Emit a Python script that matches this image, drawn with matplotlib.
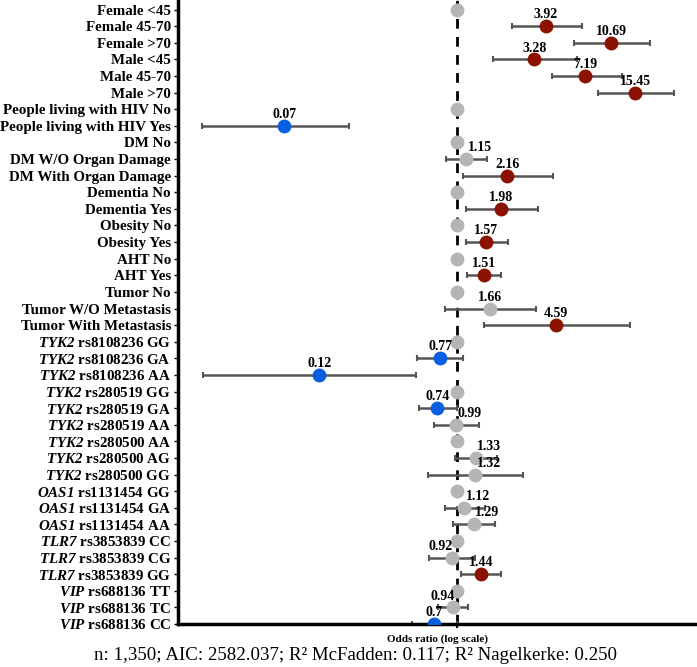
import matplotlib.pyplot as plt
import matplotlib

matplotlib.rcParams.update({
    'font.family': ['Liberation Serif', 'DejaVu Serif'],
    'mathtext.fontset': 'custom',
    'mathtext.it': 'Liberation Serif:italic:bold',
    'mathtext.rm': 'Liberation Serif:italic:bold',
})

labels = [
    "Female <45", "Female 45-70", "Female >70",
    "Male <45", "Male 45-70", "Male >70",
    "People living with HIV No", "People living with HIV Yes",
    "DM No", "DM W/O Organ Damage", "DM With Organ Damage",
    "Dementia No", "Dementia Yes",
    "Obesity No", "Obesity Yes",
    "AHT No", "AHT Yes",
    "Tumor No", "Tumor W/O Metastasis", "Tumor With Metastasis",
    r"$\mathit{TYK2}$ rs8108236 GG", r"$\mathit{TYK2}$ rs8108236 GA",
    r"$\mathit{TYK2}$ rs8108236 AA",
    r"$\mathit{TYK2}$ rs280519 GG", r"$\mathit{TYK2}$ rs280519 GA",
    r"$\mathit{TYK2}$ rs280519 AA",
    r"$\mathit{TYK2}$ rs280500 AA", r"$\mathit{TYK2}$ rs280500 AG",
    r"$\mathit{TYK2}$ rs280500 GG",
    r"$\mathit{OAS1}$ rs1131454 GG", r"$\mathit{OAS1}$ rs1131454 GA",
    r"$\mathit{OAS1}$ rs1131454 AA",
    r"$\mathit{TLR7}$ rs3853839 CC", r"$\mathit{TLR7}$ rs3853839 CG",
    r"$\mathit{TLR7}$ rs3853839 GG",
    r"$\mathit{VIP}$ rs688136 TT", r"$\mathit{VIP}$ rs688136 TC",
    r"$\mathit{VIP}$ rs688136 CC",
]

# None = reference category (OR = 1, no interval)
odds = [1, 3.92, 10.69, 3.28, 7.19, 15.45, 1, 0.07, 1, 1.15, 2.16, 1, 1.98,
        1, 1.57, 1, 1.51, 1, 1.66, 4.59, 1, 0.77, 0.12, 1, 0.74, 0.99,
        1, 1.33, 1.32, 1, 1.12, 1.29, 1, 0.92, 1.44, 1, 0.94, 0.7]
ci_low = [None, 2.32, 6.08, 1.75, 4.29, 8.79, None, 0.0199, None, 0.84, 1.09,
          None, 1.14, None, 1.14, None, 1.17, None, 0.83, 1.51, None, 0.538,
          0.0201, None, 0.555, 0.705, None, 0.97, 0.637, None, 0.83, 0.94,
          None, 0.653, 1.06, None, 0.75, 0.498]
ci_high = [None, 6.87, 19.5, 6.3, 12.6, 28.2, None, 0.19, None, 1.58, 4.40,
           None, 3.46, None, 2.18, None, 1.97, None, 3.37, 14.3, None, 1.10,
           0.532, None, 1.0, 1.40, None, 1.84, 2.76, None, 1.54, 1.78,
           None, 1.31, 1.96, None, 1.19, 1.0]
significant = [False, True, True, True, True, True, False, True, False, False,
               True, False, True, False, True, False, True, False, False, True,
               False, True, True, False, True, False, False, False, False,
               False, False, False, False, False, True, False, False, True]

caption = "n: 1,350; AIC: 2582.037; R² McFadden: 0.117; R² Nagelkerke: 0.250"

fig = plt.figure(figsize=(6.97, 6.67), dpi=100)
ax = fig.add_axes([0.2554, 0.0645, 0.7446, 0.9355])

ax.axvline(1, color='black', lw=2, ls=(0, (3.5, 3)), zorder=1)

for i, (o, lo, hi, sig) in enumerate(zip(odds, ci_low, ci_high, significant)):
    if lo is not None:
        ax.errorbar(o, i, xerr=[[o - lo], [hi - o]], fmt='none',
                    ecolor='#555555', elinewidth=1.8, capsize=2.5,
                    capthick=1.5, zorder=2)
    if sig:
        col = '#0A5FE0' if o < 1 else '#8B1100'
    else:
        col = '#B5B5B5'
    ax.plot(o, i, 'o', color=col, ms=10, mec='none', zorder=3)
    if lo is not None:
        # nudge labels off the reference line
        ha, dx = 'center', 0
        if 0.85 < o < 0.98:
            ha, dx = 'right', 1
        elif 0.98 <= o < 1.4:
            ha, dx = 'left', 1
        ax.annotate(f"{o:g}", (o, i), xytext=(dx, 3.5),
                    textcoords='offset points', ha=ha, va='bottom',
                    fontsize=10, fontweight='bold')

ax.set_xscale('log')
ax.set_xlim(0.0137, 40)
ax.set_ylim(35.55, -0.58)
ax.set_yticks(range(len(labels)))
ax.set_yticklabels(labels, fontsize=10.8, fontweight='bold')
ax.tick_params(axis='y', length=3, width=1, pad=2)
ax.xaxis.set_minor_locator(matplotlib.ticker.NullLocator())
ax.set_xticks([1])
ax.set_xticklabels([""])
ax.tick_params(axis='x', length=3, width=1.5)
ax.spines['top'].set_visible(False)
ax.spines['right'].set_visible(False)
ax.spines['left'].set_linewidth(2.5)
ax.spines['bottom'].set_linewidth(2.5)
ax.set_xlabel("Odds ratio (log scale)", fontsize=8, fontweight='bold',
              labelpad=1)

fig.text(0.51, 0.017, caption, ha='center', va='center', fontsize=13.6)

fig.savefig("out.png", dpi=100)
